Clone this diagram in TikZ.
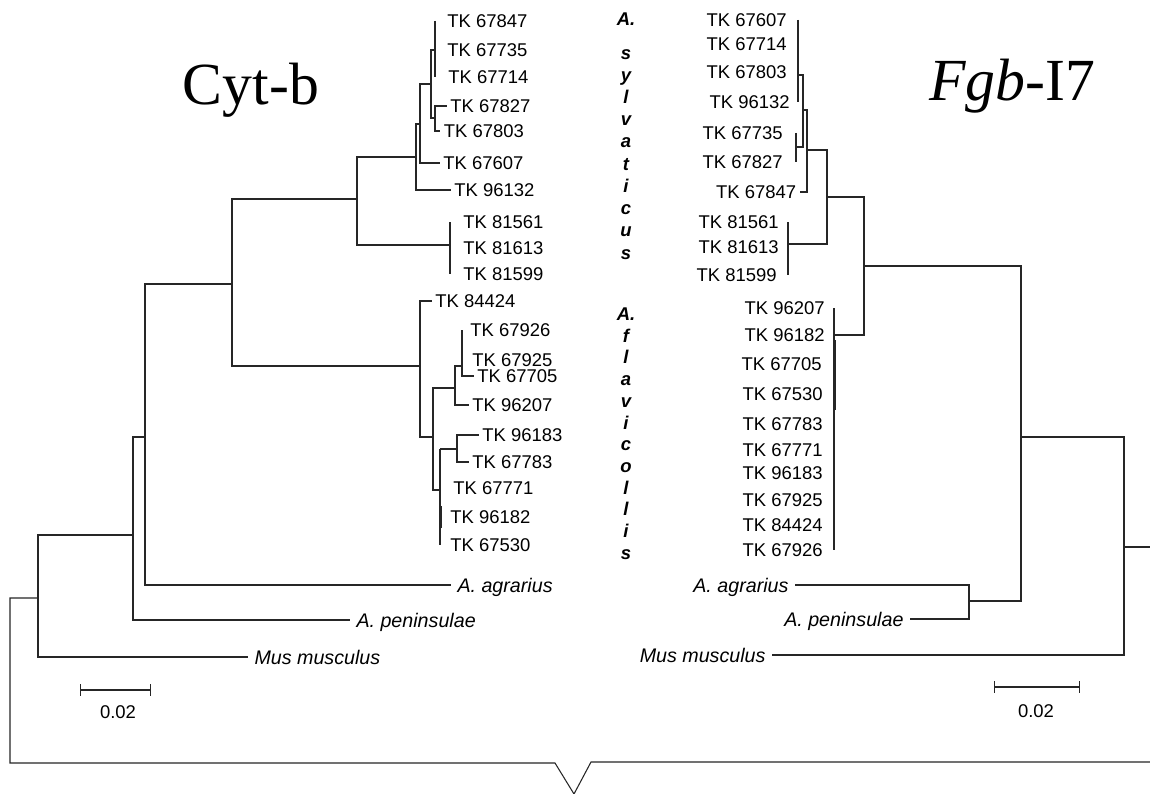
\documentclass[tikz,border=0pt]{standalone}
\usepackage{fontspec}
\setmainfont{Liberation Serif}
\setsansfont{Liberation Sans}
\usetikzlibrary{calc}

\begin{document}
\begin{tikzpicture}[x=0.02cm, y=-0.02cm,
  branch/.style={draw=black!85, line width=0.6pt},
  leaf/.style={font=\sffamily\fontsize{10.5}{12}\selectfont, inner sep=2pt, text depth=0pt},
  taxon/.style={font=\sffamily\itshape\fontsize{11.2}{13}\selectfont, inner sep=3.5pt, text depth=0pt},
  species/.style={font=\sffamily\bfseries\itshape\fontsize{10.5}{12}\selectfont, inner sep=0pt, anchor=base},
  marker/.style={font=\rmfamily\fontsize{34}{40}\selectfont, inner sep=0pt, anchor=base}]
  \path[use as bounding box, fill=white] (0,0) rectangle (1150,794);

  \node[marker] (cytb) at (251,105) {Cyt-b};
  \node[marker] (fgb) at (1012,101) {\textit{Fgb}-I7};

  % Cyt-b tree, labels
  \foreach \n/\x/\y in {67847/443.5/21, 67735/443.5/50, 67714/444.5/77, 67827/446.5/106,
      67803/440/131, 67607/439.5/163, 96132/450.5/190, 81561/459.5/222, 81613/459.5/248,
      81599/459.5/274, 84424/431.5/301, 67926/466.5/330, 67925/468.5/360, 67705/473.5/376,
      96207/468.5/405, 96183/478.5/435, 67783/468.5/462, 67771/449.5/488, 96182/446.5/517,
      67530/446.5/545}{
    \node[leaf, anchor=west] (cyt\n) at (\x,\y) {TK \n};
  }
  \node[taxon, anchor=west] (agrL) at (451,585) {A. agrarius};
  \node[taxon, anchor=west] (penL) at (350,620) {A. peninsulae};
  \node[taxon, anchor=west] (musL) at (248,657) {Mus musculus};

  \coordinate (cytA) at (435,50);
  \coordinate (cytB) at (435,118);
  \coordinate (cytAB) at (431,84);
  \coordinate (cytC) at (420,124);
  \coordinate (cytD) at (416,157);
  \coordinate (cytE) at (450,245);
  \coordinate (cytS) at (357,199);
  \coordinate (cytF) at (462,366);
  \coordinate (cytG) at (455,388);
  \coordinate (cytH) at (457,449);
  \coordinate (cytI) at (440,490);
  \coordinate (cytJ) at (433,437);
  \coordinate (cytK) at (420,366);
  \coordinate (cytL) at (232,284);
  \coordinate (cytM) at (145,437);
  \coordinate (cytN) at (133,535);
  \coordinate (cytO) at (38,598);

  \draw[branch] (cytA |- cyt67847) -- (cytA |- cyt67714);
  \draw[branch] (cytB) |- (cyt67827.west) (cytB) |- (cyt67803.west);
  \draw[branch] (cytAB) |- (cytA) (cytAB) |- (cytB);
  \draw[branch] (cytC) |- (cytAB) (cytC) |- (cyt67607.west);
  \draw[branch] (cytD) |- (cytC) (cytD) |- (cyt96132.west);
  \draw[branch] (cytE |- cyt81561) -- (cytE |- cyt81599);
  \draw[branch] (cytS) |- (cytD) (cytS) |- (cytE);
  \draw[branch] (cytF |- cyt67926) |- (cyt67705.west);
  \draw[branch] (cytG) |- (cytF) (cytG) |- (cyt96207.west);
  \draw[branch] (cytH) |- (cyt96183.west) (cytH) |- (cyt67783.west);
  \draw[branch] (cytI |- cytH) -- (cytI |- cyt67530) (cytI |- cytH) -- (cytH);
  \draw[branch] (441.3,506) -- (441.3,528);
  \draw[branch] (cytJ) |- (cytG) (cytJ) |- (cytI);
  \draw[branch] (cytK) |- (cyt84424.west) (cytK) |- (cytJ);
  \draw[branch] (cytL) |- (cytS) (cytL) |- (cytK);
  \draw[branch] (cytM) |- (cytL) (cytM) |- (agrL.west);
  \draw[branch] (cytN) |- (cytM) (cytN) |- (penL.west);
  \draw[branch] (cytO) |- (cytN) (cytO) |- (musL.west);

  % Fgb-I7 tree, labels
  \foreach \n/\x/\y in {67607/790.5/20, 67714/790.5/44, 67803/790.5/72, 96132/793.5/102,
      67735/786.5/133, 67827/786.5/162, 67847/800/192, 81561/782.5/222, 81613/782.5/247,
      81599/780.5/275, 96207/828.5/308, 96182/828.5/335, 67705/825.5/364, 67530/826.5/394,
      67783/826.5/424, 67771/826.5/450, 96183/826.5/473, 67925/826.5/500, 84424/826.5/525,
      67926/826.5/550}{
    \node[leaf, anchor=east] (fgb\n) at (\x,\y) {TK \n};
  }
  \node[taxon, anchor=east] (agrR) at (795,585) {A. agrarius};
  \node[taxon, anchor=east] (penR) at (910,619) {A. peninsulae};
  \node[taxon, anchor=east] (musR) at (772,655) {Mus musculus};

  \coordinate (fgbA) at (798,75);
  \coordinate (fgbB) at (796,147);
  \coordinate (fgbC) at (803,110);
  \coordinate (fgbD) at (807,150);
  \coordinate (fgbE) at (788,244);
  \coordinate (fgbF) at (827,197);
  \coordinate (fgbG) at (834,335);
  \coordinate (fgbH) at (864,266);
  \coordinate (fgbI) at (969,601);
  \coordinate (fgbJ) at (1021,437);
  \coordinate (fgbK) at (1124,547);
  \coordinate (fgbroot) at (1150,547);

  \draw[branch] (fgbA |- fgb67607) -- (fgbA |- fgb96132);
  \draw[branch] (fgbB |- fgb67735) -- (fgbB |- fgb67827);
  \draw[branch] (fgbC) |- (fgbA) (fgbC) |- (fgbB);
  \draw[branch] (fgbD) |- (fgbC) (fgbD) |- (fgb67847.east);
  \draw[branch] (fgbE |- fgb81561) -- (fgbE |- fgb81599);
  \draw[branch] (fgbF) |- (fgbD) (fgbF) |- (fgbE);
  \draw[branch] (fgbG |- fgb96207) -- (fgbG |- fgb67926);
  \draw[branch] (835.3,340) -- (835.3,410);
  \draw[branch] (fgbH) |- (fgbF) (fgbH) |- (fgbG);
  \draw[branch] (fgbI) |- (agrR.east) (fgbI) |- (penR.east);
  \draw[branch] (fgbJ) |- (fgbH) (fgbJ) |- (fgbI);
  \draw[branch] (fgbK) |- (fgbJ) (fgbK) |- (musR.east);
  \draw[branch] (fgbK) -- (fgbroot);

  % species names down the middle
  \node[species] (sylA) at (626,26) {A.};
  \foreach \c [count=\i] in {s,y,l,v,a,t,i,c,u,s}
    \node[species] (syl\i) at (626,{37+22.2*\i}) {\c};
  \node[species] (flaA) at (626,320) {A.};
  \foreach \c [count=\i] in {f,l,a,v,i,c,o,l,l,i,s}
    \node[species] (fla\i) at (626,{320.5+21.7*\i}) {\c};

  % scale bars
  \coordinate (scL1) at (80,690);
  \coordinate (scL2) at (151,690);
  \draw[branch, |-|] (scL1) -- (scL2);
  \node[leaf] (scLtext) at (118,712) {0.02};
  \coordinate (scR1) at (994,687);
  \coordinate (scR2) at (1080,687);
  \draw[branch, |-|] (scR1) -- (scR2);
  \node[leaf] (scRtext) at (1036,711) {0.02};

  % bracket under both trees
  \coordinate (brL) at (10,763);
  \coordinate (brV1) at (555,763);
  \coordinate (brV) at (574,794);
  \coordinate (brV2) at (591,762);
  \coordinate (brR) at (1150,762);
  \draw[branch] (cytO) -| (brL) -- (brV1) -- (brV) -- (brV2) -- (brR);
\end{tikzpicture}
\end{document}
